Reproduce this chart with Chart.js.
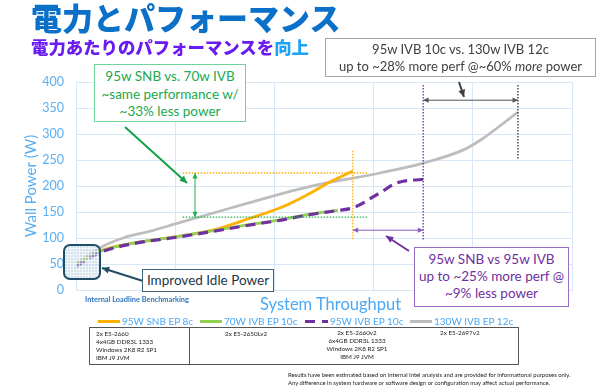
<html>
  <head>
    <title>電力とパフォーマンス</title>
    <script src="https://cdn.jsdelivr.net/npm/chart.js@4.4.1/dist/chart.umd.min.js"></script>
    <style>
      body { margin: 0; background: #fff; }
      #wrap { position: relative; width: 600px; height: 386px; overflow: hidden; font-family: Lato, "Liberation Sans", sans-serif; }
      #c { position: absolute; left: 0; top: 0; }
      .abs { position: absolute; white-space: nowrap; }
      .jp { font-family: "Noto Sans CJK JP", sans-serif; font-weight: 900; }
      .box { position: absolute; background: #fff; text-align: center; box-sizing: border-box; }
      .leg { position: absolute; top: 314px; font-size: 10px; color: #4aa8f5; line-height: 14px; white-space: nowrap; }
      .sw { display: inline-block; width: 22px; height: 3px; vertical-align: middle; margin-right: 2px; position: relative; top: -1px; }
      .tbl { position: absolute; font-size: 6.3px; line-height: 8px; color: #222; }
    </style>
  </head>
  <body>
    <div id="wrap">
      <canvas id="c" width="600" height="386"></canvas>

      <div class="abs jp" style="left:31px; top:-6px; font-size:31px; color:#0a70c8;">電力とパフォーマンス</div>
      <div class="abs jp" style="left:31px; top:34px; font-size:17.4px; color:#6a1cf0;">電力あたりのパフォーマンスを<span style="color:#1ea2f2">向上</span></div>

      <div class="box" style="left:325px; top:38px; width:271px; height:39px; border:1px solid #a6a6a6; color:#404040; font-size:13px; line-height:16.5px; padding-top:2px;">
        95w IVB 10c vs. 130w IVB 12c<br>up to ~28% more perf @~60% <i>more</i> power
      </div>
      <div class="box" style="left:94px; top:64px; width:152px; height:58px; border:1px solid #6fd49a; color:#22a84c; font-size:13.5px; line-height:17.5px; padding-top:3px;">
        95w SNB vs. 70w IVB<br>~same performance w/<br>~33% less power
      </div>
      <div class="box" style="left:414px; top:247px; width:155px; height:60px; border:1px solid #9a6cc9; color:#7030a0; font-size:13.5px; line-height:17px; padding-top:3px;">
        95w SNB vs 95w IVB<br>up to ~25% more perf @<br>~9% less power
      </div>
      <div class="box" style="left:142px; top:269px; width:132px; height:23px; border:1px solid #3d6478; color:#1c3646; font-size:13.5px; line-height:21px;">
        Improved Idle Power
      </div>

      <div class="abs" style="left:85px; top:295px; font-size:7.4px; color:#2f75c0; font-weight:700;">Internal Loadline Benchmarking</div>
      <div class="abs" style="left:260px; top:294px; font-size:16.5px; color:#4aa8f5;">System Throughput</div>

      <div id="legend"></div>

      <div style="position:absolute; left:89px; top:327px; width:430px; height:38px; border:1px solid #555; box-sizing:border-box;"></div>
      <div style="position:absolute; left:189px; top:327px; width:1px; height:38px; background:#555;"></div>
      <div class="tbl" style="left:96px; top:330px;">2x E5-2660<br>4x4GB DDR3L 1333<br>Windows 2K8 R2 SP1<br>IBM J9 JVM</div>
      <div class="tbl" style="left:225px; top:330px;">2x E5-2650Lv2</div>
      <div class="tbl" style="left:317px; top:329px; width:80px; text-align:center;">2x E5-2660v2<br>6x4GB DDR3L 1333<br>Windows 2K8 R2 SP1<br>IBM J9 JVM</div>
      <div class="tbl" style="left:440px; top:329px;">2x E5-2697v2</div>

      <div class="abs" style="left:288px; top:371px; font-size:5.9px; line-height:8px; color:#222;">Results have been estimated based on internal Intel analysis and are provided for informational purposes only.<br>Any difference in system hardware or software design or configuration may affect actual performance.</div>
    </div>

    <script>
      // series names + colours
      var seriesNames = ['95W SNB EP 8c', '70W IVB EP 10c', '95W IVB EP 10c', '130W IVB EP 12c'];
      var seriesColors = ['#ffb000', '#92d050', '#7030a0', '#bdbdbd'];

      // throughput (relative, 0-100) and wall power (W)
      var snbX = [0, 4.8, 11.5, 20, 28, 35.1, 41.7, 47.2, 50.6, 53.2, 55.8];
      var snbW = [50, 75, 90, 102, 116, 138, 160, 186, 205, 217, 229];

      var ivb70X = [0, 4.8, 11.5, 20, 28.4, 35.1, 41.7, 47.2, 52.8];
      var ivb70W = [48, 74, 90, 102, 115, 126, 136, 146, 153];

      var ivb95X = [0, 4.8, 11.5, 20, 28.4, 35.1, 41.7, 47.2, 52.8, 55.8, 61.3, 64.7, 70];
      var ivb95W = [45, 72, 89, 101, 114, 125, 135, 145, 153, 158, 187, 206, 213];

      var ivb130X = [0, 4.8, 9.5, 14.9, 20, 28.4, 35, 41.7, 48.6, 61.3, 70, 78, 81.5, 89.1];
      var ivb130W = [50, 81, 100, 113, 127, 150, 168, 186, 202, 225, 244, 269, 288, 342];

      var yTicks = [0, 50, 100, 150, 200, 250, 300, 350, 400];

      // reference levels used by the dotted guides
      var snbPeak = 225, ivb70Level = 140;
      var snbEndX = 55.8, ivb95EndX = 70, ivb130EndX = 89.1;

      function pts(xs, ys) {
        return xs.map(function (v, i) { return { x: v, y: ys[i] }; });
      }

      // legend
      var legHtml = '';
      var legLeft = [98, 200, 305, 410];
      seriesNames.forEach(function (n, i) {
        var sw = i == 2
          ? '<span class="sw" style="width:10px;background:' + seriesColors[i] + ';margin-right:7px"></span><span class="sw" style="width:6px;background:' + seriesColors[i] + '"></span>'
          : '<span class="sw" style="background:' + seriesColors[i] + '"></span>';
        legHtml += '<div class="leg" style="left:' + legLeft[i] + 'px">' + sw + n + '</div>';
      });
      document.getElementById('legend').innerHTML = legHtml;

      function arrowHead(ctx, x1, y1, x2, y2, size) {
        var a = Math.atan2(y2 - y1, x2 - x1);
        ctx.beginPath();
        ctx.moveTo(x2, y2);
        ctx.lineTo(x2 - size * Math.cos(a - 0.45), y2 - size * Math.sin(a - 0.45));
        ctx.lineTo(x2 - size * Math.cos(a + 0.45), y2 - size * Math.sin(a + 0.45));
        ctx.closePath();
        ctx.fill();
      }
      function arrow(ctx, x1, y1, x2, y2, color, w, both) {
        ctx.save();
        ctx.strokeStyle = color; ctx.fillStyle = color; ctx.lineWidth = w;
        ctx.beginPath(); ctx.moveTo(x1, y1); ctx.lineTo(x2, y2); ctx.stroke();
        arrowHead(ctx, x1, y1, x2, y2, w > 1.5 ? 8 : 6);
        if (both) arrowHead(ctx, x2, y2, x1, y1, 6);
        ctx.restore();
      }
      function dotted(ctx, x1, y1, x2, y2, color) {
        ctx.save();
        ctx.strokeStyle = color; ctx.lineWidth = 1.3; ctx.setLineDash([1.5, 1.5]);
        ctx.beginPath(); ctx.moveTo(x1, y1); ctx.lineTo(x2, y2); ctx.stroke();
        ctx.restore();
      }

      var notes = {
        id: 'notes',
        afterDatasetsDraw: function (chart) {
          var ctx = chart.ctx, x = chart.scales.x, y = chart.scales.y;

          // horizontal guides
          dotted(ctx, x.getPixelForValue(21.5), y.getPixelForValue(snbPeak), x.getPixelForValue(59), y.getPixelForValue(snbPeak), '#ffb000');
          dotted(ctx, x.getPixelForValue(21.5), y.getPixelForValue(ivb70Level), x.getPixelForValue(59), y.getPixelForValue(ivb70Level), '#22b14c');
          // vertical guides
          dotted(ctx, x.getPixelForValue(snbEndX), y.getPixelForValue(268), x.getPixelForValue(snbEndX), y.getPixelForValue(96), '#ffb000');
          dotted(ctx, x.getPixelForValue(ivb95EndX), y.getPixelForValue(394), x.getPixelForValue(ivb95EndX), y.getPixelForValue(96), '#7030a0');
          dotted(ctx, x.getPixelForValue(ivb130EndX), y.getPixelForValue(394), x.getPixelForValue(ivb130EndX), y.getPixelForValue(250), '#333');

          // span arrows
          arrow(ctx, x.getPixelForValue(24), y.getPixelForValue(ivb70Level), x.getPixelForValue(24), y.getPixelForValue(snbPeak), '#22b14c', 1, true);
          arrow(ctx, x.getPixelForValue(ivb95EndX), y.getPixelForValue(365), x.getPixelForValue(ivb130EndX), y.getPixelForValue(365), '#555', 1, true);
          arrow(ctx, x.getPixelForValue(snbEndX), y.getPixelForValue(115), x.getPixelForValue(ivb95EndX), y.getPixelForValue(115), '#8a5cc0', 1, true);

          // callout pointers
          arrow(ctx, 125, 127, 187, 183, '#14a046', 2);
          arrow(ctx, 459, 82, 464, 97, '#404040', 2);
          arrow(ctx, 409, 251, 386, 236, '#7030a0', 2);
          arrow(ctx, 143, 281, 102, 268, '#1f4e66', 2);

          // idle power hatched square
          ctx.save();
          ctx.beginPath();
          ctx.roundRect(64, 245, 36, 34, 6);
          ctx.fillStyle = 'rgba(178,204,222,0.55)';
          ctx.fill();
          ctx.clip();
          ctx.strokeStyle = 'rgba(255,255,255,0.6)';
          ctx.lineWidth = 1;
          for (var i = 64; i < 100; i += 3) {
            ctx.beginPath(); ctx.moveTo(i + 0.5, 245); ctx.lineTo(i + 0.5, 279); ctx.stroke();
          }
          for (var j = 245; j < 279; j += 3) {
            ctx.beginPath(); ctx.moveTo(64, j + 0.5); ctx.lineTo(100, j + 0.5); ctx.stroke();
          }
          ctx.restore();
          ctx.save();
          ctx.beginPath();
          ctx.roundRect(64, 245, 36, 34, 6);
          ctx.strokeStyle = '#1f4e66'; ctx.lineWidth = 2;
          ctx.stroke();
          ctx.restore();
        }
      };

      var allX = [snbX, ivb70X, ivb95X, ivb130X];
      var allW = [snbW, ivb70W, ivb95W, ivb130W];
      var drawOrder = [2, 1, 0, 3];

      new Chart(document.getElementById('c'), {
        type: 'line',
        data: {
          datasets: seriesNames.map(function (n, i) {
            return {
              label: n,
              data: pts(allX[i], allW[i]),
              borderColor: seriesColors[i],
              borderWidth: i == 2 ? 3.2 : 2.8,
              borderDash: i == 2 ? [10, 6] : [],
              pointRadius: 0,
              cubicInterpolationMode: 'monotone',
              order: drawOrder[i]
            };
          })
        },
        options: {
          responsive: false,
          animation: false,
          layout: { padding: { left: 20, right: 28, top: 82, bottom: 96 } },
          plugins: { legend: { display: false }, tooltip: { enabled: false } },
          scales: {
            x: {
              type: 'linear', min: 0, max: 100,
              ticks: { display: false, stepSize: 20 },
              grid: { color: '#d8e7f8', drawTicks: false },
              border: { color: '#d8e7f8' }
            },
            y: {
              min: 0, max: 400,
              afterFit: function (s) { s.width = 56; },
              afterBuildTicks: function (s) { s.ticks = yTicks.map(function (v) { return { value: v }; }); },
              ticks: { color: '#5aaef2', font: { family: 'Lato', size: 12.5 }, padding: 12 },
              grid: { color: '#d8e7f8', drawTicks: false },
              border: { color: '#d8e7f8' },
              title: { display: true, text: 'Wall Power (W)', color: '#5aaef2', font: { family: 'Lato', size: 15 }, padding: { top: 2, bottom: 2 } }
            }
          }
        },
        plugins: [notes]
      });
    </script>
  </body>
</html>
